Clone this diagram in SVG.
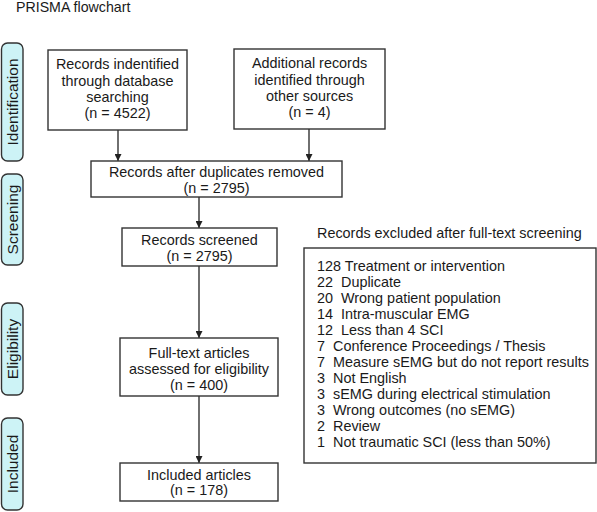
<svg xmlns="http://www.w3.org/2000/svg" width="597" height="512" viewBox="0 0 597 512">
<style>
text{font-family:"Liberation Sans",Arial,sans-serif;font-size:14.4px;fill:#1a1a1a}
.c{text-anchor:middle}
.box{fill:#fff;stroke:#333;stroke-width:1.4}
.side{fill:#cdf3f6;stroke:#333;stroke-width:1.4}
.st{font-size:15.5px;text-anchor:middle}
.ln{stroke:#222;stroke-width:1.3;fill:none}
</style>
<defs>
<marker id="ah" viewBox="0 0 10 10" refX="10" refY="5" markerWidth="7" markerHeight="7" markerUnits="userSpaceOnUse" orient="auto">
<path d="M0,0 L10,5 L0,10 z" fill="#222"/>
</marker>
</defs>
<rect width="597" height="512" fill="#fff"/>
<text x="16" y="12" style="font-size:14.2px">PRISMA flowchart</text>

<g id="side-identification"><rect class="side" x="1.5" y="43" width="21.5" height="118" rx="6"/><text class="st" transform="translate(17.5,102) rotate(-90)">Identification</text></g>
<g id="side-screening"><rect class="side" x="1.5" y="174" width="21.5" height="91" rx="6"/><text class="st" transform="translate(17.5,219.5) rotate(-90)">Screening</text></g>
<g id="side-eligibility"><rect class="side" x="1.5" y="303" width="21.5" height="92" rx="6"/><text class="st" transform="translate(17.5,349) rotate(-90)">Eligibility</text></g>
<g id="side-included"><rect class="side" x="1.5" y="418" width="21.5" height="92" rx="6"/><text class="st" transform="translate(17.5,464) rotate(-90)">Included</text></g>

<g id="connectors">
<line class="ln" x1="118" y1="130" x2="118" y2="161" marker-end="url(#ah)"/>
<line class="ln" x1="309" y1="129" x2="309" y2="161" marker-end="url(#ah)"/>
<line class="ln" x1="199" y1="197" x2="199" y2="228" marker-end="url(#ah)"/>
<line class="ln" x1="199" y1="266" x2="199" y2="338" marker-end="url(#ah)"/>
<line class="ln" x1="199" y1="396" x2="199" y2="463" marker-end="url(#ah)"/>
</g>

<g id="n-database"><rect class="box" x="48" y="50" width="139" height="80"/>
<text class="c" x="117.5" y="69">Records indentified</text>
<text class="c" x="117.5" y="86">through database</text>
<text class="c" x="117.5" y="102">searching</text>
<text class="c" x="117.5" y="118">(n = 4522)</text></g>

<g id="n-other"><rect class="box" x="234" y="49" width="151" height="80"/>
<text class="c" x="309.5" y="68">Additional records</text>
<text class="c" x="309.5" y="85">identified through</text>
<text class="c" x="309.5" y="101">other sources</text>
<text class="c" x="309.5" y="117">(n = 4)</text></g>

<g id="n-dedup"><rect class="box" x="91" y="161" width="251" height="36"/>
<text class="c" x="216.5" y="177">Records after duplicates removed</text>
<text class="c" x="216.5" y="193">(n = 2795)</text></g>

<g id="n-screened"><rect class="box" x="122" y="228" width="155" height="38"/>
<text class="c" x="199.5" y="245">Records screened</text>
<text class="c" x="199.5" y="261">(n = 2795)</text></g>

<g id="n-fulltext"><rect class="box" x="120" y="338" width="158" height="58"/>
<text class="c" x="199" y="358">Full-text articles</text>
<text class="c" x="199" y="374">assessed for eligibility</text>
<text class="c" x="199" y="390">(n = 400)</text></g>

<g id="n-included"><rect class="box" x="120" y="463" width="158" height="38"/>
<text class="c" x="199" y="480">Included articles</text>
<text class="c" x="199" y="495">(n = 178)</text></g>

<g id="n-excluded">
<text x="317" y="238">Records excluded after full-text screening</text>
<rect class="box" x="304" y="248" width="292" height="215"/>
<text x="317" y="271">128 Treatment or intervention</text>
<text y="287"><tspan x="317">22</tspan><tspan x="341">Duplicate</tspan></text>
<text y="303"><tspan x="317">20</tspan><tspan x="341">Wrong patient population</tspan></text>
<text y="319"><tspan x="317">14</tspan><tspan x="341">Intra-muscular EMG</tspan></text>
<text y="335"><tspan x="317">12</tspan><tspan x="341">Less than 4 SCI</tspan></text>
<text y="351"><tspan x="317">7</tspan><tspan x="333">Conference Proceedings / Thesis</tspan></text>
<text y="367"><tspan x="317">7</tspan><tspan x="333">Measure sEMG but do not report results</tspan></text>
<text y="383"><tspan x="317">3</tspan><tspan x="333">Not English</tspan></text>
<text y="399"><tspan x="317">3</tspan><tspan x="333">sEMG during electrical stimulation</tspan></text>
<text y="415"><tspan x="317">3</tspan><tspan x="333">Wrong outcomes (no sEMG)</tspan></text>
<text y="431"><tspan x="317">2</tspan><tspan x="333">Review</tspan></text>
<text y="447"><tspan x="317">1</tspan><tspan x="333">Not traumatic SCI (less than 50%)</tspan></text>
</g>
</svg>
